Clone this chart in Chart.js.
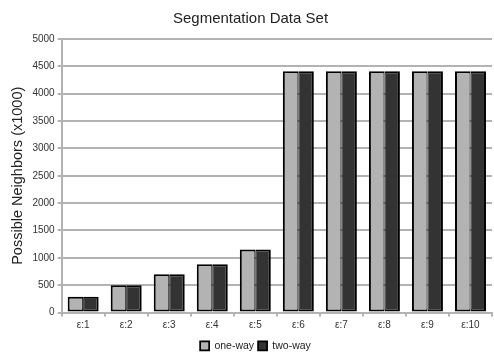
<!DOCTYPE html>
<html>
<head>
<meta charset="utf-8">
<script src="https://cdn.jsdelivr.net/npm/chart.js@4/dist/chart.umd.min.js"></script>
<style>
  html, body { margin: 0; padding: 0; background: #ffffff; }
  #wrap { width: 494px; height: 356px; }
</style>
</head>
<body>
<div id="wrap"><canvas id="chart" width="494" height="356"></canvas></div>
<script>
// Epsilon settings along the x axis
const categories = ['ε:1', 'ε:2', 'ε:3', 'ε:4', 'ε:5', 'ε:6', 'ε:7', 'ε:8', 'ε:9', 'ε:10'];
// Possible neighbours, in thousands
const oneWay = [290, 500, 700, 880, 1150, 4410, 4410, 4410, 4410, 4410];
const twoWay = [290, 500, 700, 880, 1150, 4410, 4410, 4410, 4410, 4410];
const seriesNames = ['one-way', 'two-way'];

const FONT = "'Liberation Sans', Arial, sans-serif";
const GRID = '#b3b3b3';

// Nudge the bottom legend slightly right and down
const legendNudge = {
  id: 'legendNudge',
  afterLayout(chart) {
    const lg = chart.legend;
    if (lg) {
      lg.left += 5;
      lg.right += 5;
      lg.top += 2;
      lg.bottom += 2;
    }
  }
};

new Chart(document.getElementById('chart'), {
  type: 'bar',
  plugins: [legendNudge],
  data: {
    labels: categories,
    datasets: [
      {
        label: seriesNames[0], data: oneWay, backgroundColor: '#b3b3b3', borderColor: '#000000',
        borderWidth: { left: 2, right: 1, top: 2, bottom: 2 }, borderSkipped: false
      },
      {
        label: seriesNames[1], data: twoWay, backgroundColor: '#333333', borderColor: '#000000',
        borderWidth: { left: 1, right: 2, top: 2, bottom: 2 }, borderSkipped: false
      }
    ]
  },
  options: {
    responsive: false,
    animation: false,
    devicePixelRatio: 1,
    layout: { padding: { left: 9, right: 2, top: 6, bottom: -3 } },
    datasets: { bar: { barPercentage: 1.0, categoryPercentage: 0.72 } },
    plugins: {
      title: {
        display: true,
        text: 'Segmentation Data Set',
        color: '#222222',
        font: { family: FONT, size: 15, weight: 'normal' },
        padding: { top: 4, bottom: 11 }
      },
      legend: {
        position: 'bottom',
        labels: {
          color: '#222222',
          font: { family: FONT, size: 10.5 },
          boxWidth: 9,
          boxHeight: 9,
          padding: 4
        }
      },
      tooltip: { enabled: false }
    },
    scales: {
      x: {
        grid: {
          display: true,
          drawOnChartArea: false,
          drawTicks: true,
          tickLength: 4,
          color: GRID,
          lineWidth: 2,
          offset: true
        },
        border: { display: true, color: GRID, width: 2 },
        ticks: { color: '#333333', font: { family: FONT, size: 10 }, padding: 3 }
      },
      y: {
        min: 0,
        max: 5000,
        ticks: {
          stepSize: 500, color: '#333333', font: { family: FONT, size: 10 }, padding: 3,
          callback: (v) => String(v)
        },
        grid: { color: GRID, lineWidth: 2, drawTicks: true, tickLength: 4 },
        border: { display: true, color: GRID, width: 2 },
        title: {
          display: true,
          text: 'Possible Neighbors (x1000)',
          color: '#222222',
          font: { family: FONT, size: 14.5 },
          padding: { top: 0, bottom: 3 }
        }
      }
    }
  }
});
</script>
</body>
</html>
